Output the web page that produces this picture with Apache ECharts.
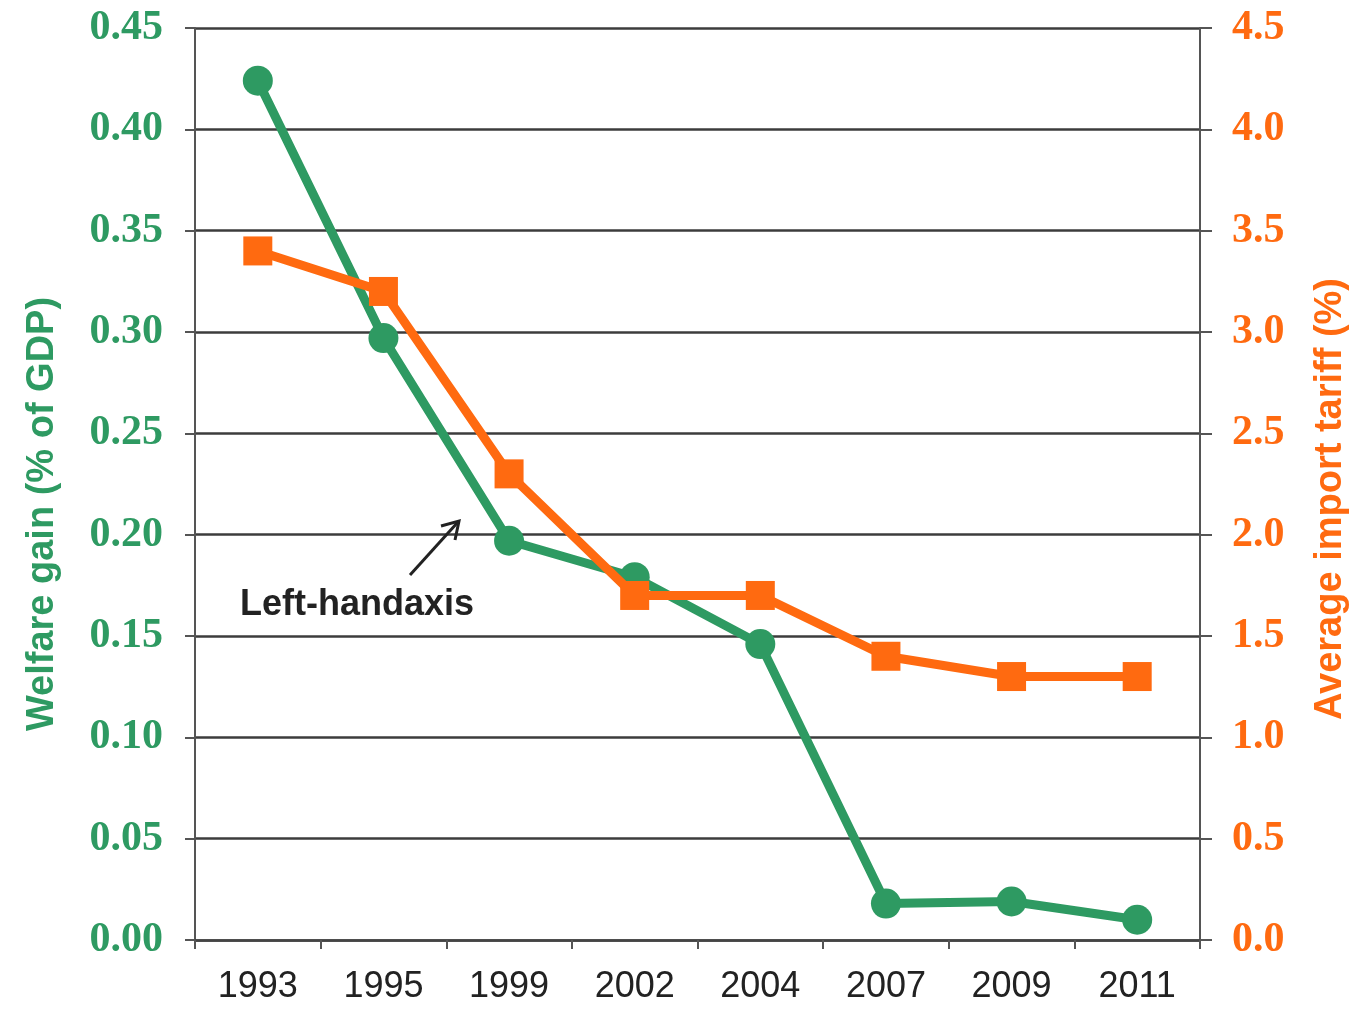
<!DOCTYPE html>
<html><head><meta charset="utf-8">
<script src="https://cdn.jsdelivr.net/npm/echarts@6/dist/echarts.min.js"></script>
<style>html,body{margin:0;padding:0;background:#fff}#c{width:1354px;height:1009px}</style>
</head><body><div id="c"></div>
<script>
var years = ['1993','1995','1999','2002','2004','2007','2009','2011'];
var welfareGain = [0.424, 0.297, 0.197, 0.179, 0.146, 0.018, 0.019, 0.010];
var importTariff = [3.4, 3.2, 2.3, 1.7, 1.7, 1.4, 1.3, 1.3];
var leftTicks = ['0.00','0.05','0.10','0.15','0.20','0.25','0.30','0.35','0.40','0.45'];
var rightTicks = ['0.0','0.5','1.0','1.5','2.0','2.5','3.0','3.5','4.0','4.5'];
var GREEN = '#2e9a62', ORANGE = '#ff6a10';
var chart = echarts.init(document.getElementById('c'));
chart.setOption({
  animation: false,
  backgroundColor: '#fff',
  grid: {left: 195, right: 154, top: 28, bottom: 69, containLabel: false, outerBoundsMode: 'none'},
  xAxis: {
    type: 'category', data: years, boundaryGap: true,
    axisLine: {lineStyle: {color: '#444', width: 2.5}},
    axisTick: {show: true, length: 9, lineStyle: {color: '#555', width: 2}},
    axisLabel: {color: '#222', fontFamily: 'Liberation Sans', fontSize: 36, margin: 29}
  },
  yAxis: [{
    type: 'value', min: 0, max: 0.45, interval: 0.05, position: 'left',
    name: 'Welfare gain (% of GDP)', nameLocation: 'middle', nameGap: 133, nameRotate: 90,
    nameTextStyle: {color: GREEN, fontFamily: 'Liberation Sans', fontWeight: 'bold', fontSize: 38, padding: [0, 60, 0, 0]},
    axisLine: {show: true, lineStyle: {color: '#555', width: 2}},
    axisTick: {show: true, length: 10, lineStyle: {color: '#555', width: 2}},
    splitLine: {show: true, lineStyle: {color: '#3c3c3c', width: 2.5}},
    axisLabel: {color: GREEN, fontFamily: 'Liberation Serif', fontWeight: 'bold', fontSize: 42, margin: 32,
      formatter: function(v){ return leftTicks[Math.round(v/0.05)]; }}
  },{
    type: 'value', min: 0, max: 4.5, interval: 0.5, position: 'right',
    name: 'Average import tariff (%)', nameLocation: 'middle', nameGap: 112, nameRotate: 90,
    nameTextStyle: {color: ORANGE, fontFamily: 'Liberation Sans', fontWeight: 'bold', fontSize: 38, padding: [0, 30, 0, 0]},
    axisLine: {show: true, lineStyle: {color: '#555', width: 2}},
    axisTick: {show: true, length: 12, lineStyle: {color: '#555', width: 2}},
    splitLine: {show: false},
    axisLabel: {color: ORANGE, fontFamily: 'Liberation Serif', fontWeight: 'bold', fontSize: 42, margin: 32,
      formatter: function(v){ return rightTicks[Math.round(v/0.5)]; }}
  }],
  series: [{
    type: 'line', data: welfareGain, yAxisIndex: 0, z: 2,
    symbol: 'circle', symbolSize: 30,
    lineStyle: {color: GREEN, width: 9}, itemStyle: {color: GREEN}
  },{
    type: 'line', data: importTariff, yAxisIndex: 1, z: 3,
    symbol: 'rect', symbolSize: 29,
    lineStyle: {color: ORANGE, width: 9}, itemStyle: {color: ORANGE}
  }],
  graphic: [
    {type: 'text', left: 240, top: 587, z: 10,
     style: {text: 'Left-handaxis', fill: '#222', font: 'bold 36px "Liberation Sans"'}},
    {type: 'line', z: 10, shape: {x1: 410, y1: 575, x2: 458, y2: 522},
     style: {stroke: '#222', lineWidth: 3}},
    {type: 'polyline', z: 10, shape: {points: [[441, 526], [459, 521], [455, 540]]},
     style: {stroke: '#222', lineWidth: 3, fill: null}}
  ]
});
</script></body></html>
